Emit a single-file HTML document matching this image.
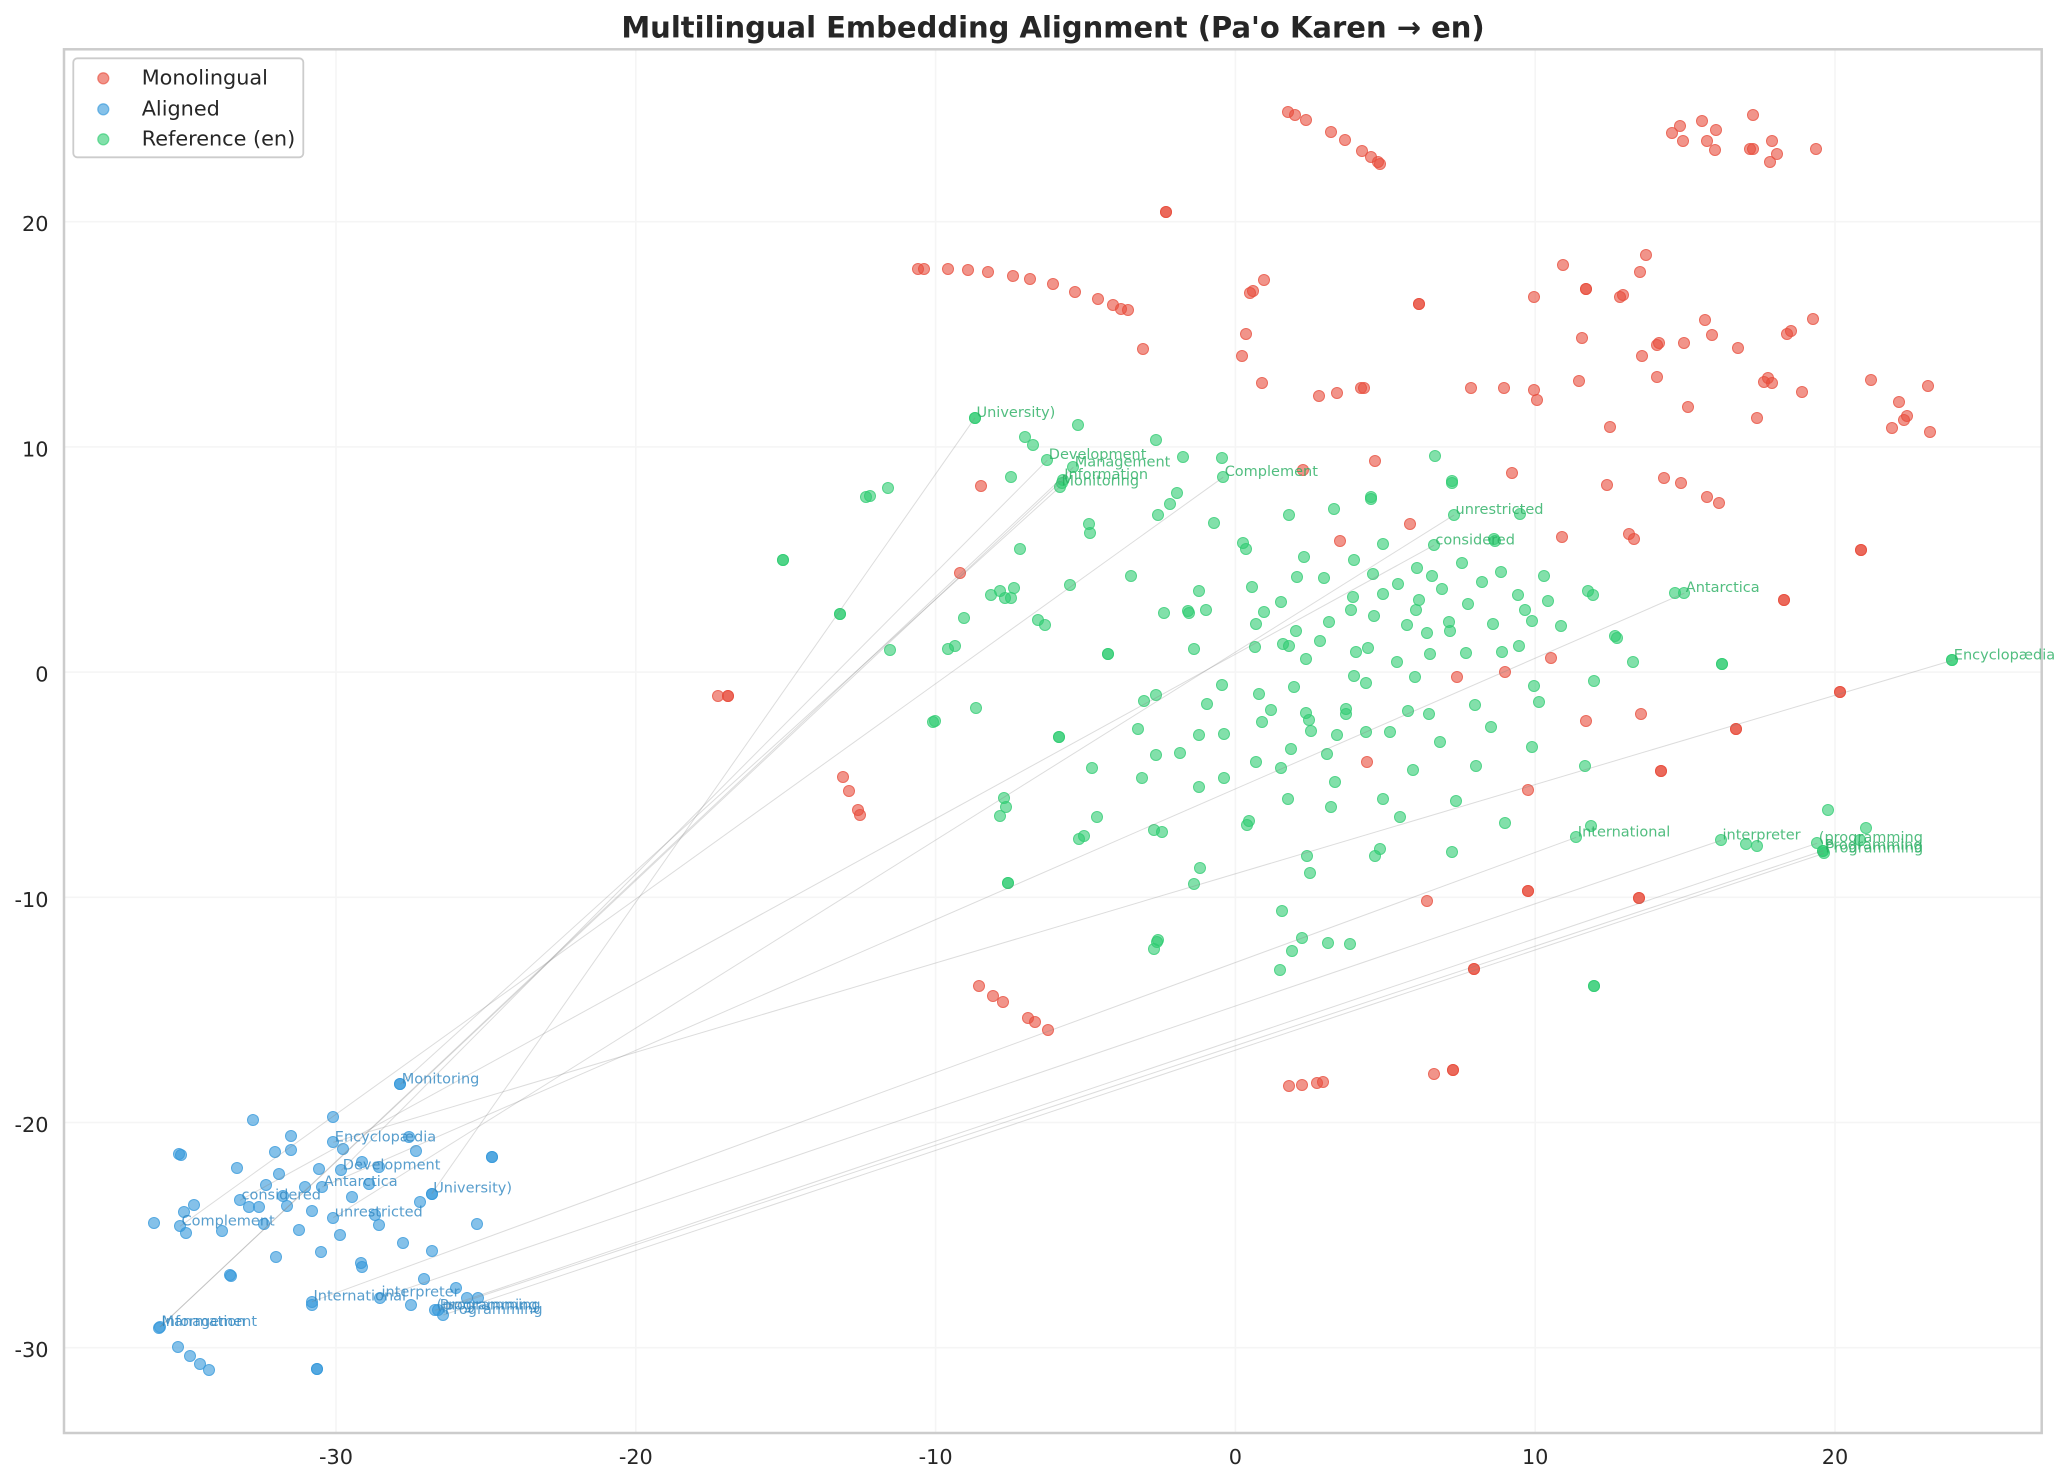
<!DOCTYPE html>
<html><head><meta charset="utf-8"><style>
html,body{margin:0;padding:0;background:#fff;}
body{width:2069px;height:1483px;position:relative;overflow:hidden;font-family:"DejaVu Sans","Liberation Sans",sans-serif;}
svg{position:absolute;left:0;top:0;}
#bg{z-index:0}#fg{z-index:5}
.p{position:absolute;left:0;top:0;}
.p i,.p b,.p u{position:absolute;display:block;width:12px;height:12px;margin:-6px 0 0 -6px;border-radius:50%;box-sizing:border-box;left:calc(var(--ox) + var(--x) * var(--sx));top:calc(var(--oy) + var(--y) * var(--sy));}
.p i{background:rgba(231,76,60,.6);border:1.3px solid rgba(231,76,60,.6);z-index:1}
.p b{background:rgba(52,152,219,.6);border:1.3px solid rgba(52,152,219,.6);z-index:2}
.p u{background:rgba(46,204,113,.6);border:1.3px solid rgba(46,204,113,.6);z-index:3}
</style></head><body>
<svg id="bg" width="2069" height="1483">
<g stroke="#f5f5f5" stroke-width="1.6">
<line x1="336" y1="50" x2="336" y2="1433"/><line x1="635.8" y1="50" x2="635.8" y2="1433"/><line x1="935.6" y1="50" x2="935.6" y2="1433"/><line x1="1235.4" y1="50" x2="1235.4" y2="1433"/><line x1="1535.2" y1="50" x2="1535.2" y2="1433"/><line x1="1835" y1="50" x2="1835" y2="1433"/>
<line x1="64" y1="221.7" x2="2042" y2="221.7"/><line x1="64" y1="446.9" x2="2042" y2="446.9"/><line x1="64" y1="672.1" x2="2042" y2="672.1"/><line x1="64" y1="897.3" x2="2042" y2="897.3"/><line x1="64" y1="1122.5" x2="2042" y2="1122.5"/><line x1="64" y1="1347.7" x2="2042" y2="1347.7"/>
</g>
<rect x="64" y="49.3" width="1977.7" height="1383.7" fill="none" stroke="#cccccc" stroke-width="2.5"/>
</svg>

<div class="p" style="--ox:1100px;--oy:380px;--sx:.4464px;--sy:.3827px">
<i style=--x:363;--y:8></i><i style=--x:491;--y:42></i><i style=--x:530;--y:35></i><i style=--x:585;--y:21></i><i style=--x:592;--y:21></i><i style=--x:832;--y:21></i><i style=--x:906;--y:21></i><i style=--x:972;--y:27></i><i style=--x:980;--y:53></i><i style=--x:1073;--y:2></i><i style=--x:1318;--y:71></i><i style=--x:1472;--y:100></i><i style=--x:1143;--y:124></i><i style=--x:617;--y:212></i><i style=--x:455;--y:235></i><i style=--x:924;--y:243></i><i style=--x:1264;--y:257></i><i style=--x:1302;--y:269></i><i style=--x:1136;--y:275></i><i style=--x:1360;--y:306></i><i style=--x:1387;--y:322></i><i style=--x:695;--y:375></i><i style=--x:538;--y:421></i><i style=--x:1035;--y:411></i><i style=--x:1185;--y:403></i><i style=--x:1197;--y:416></i><i style=--x:1532;--y:576></i><i style=--x:1532;--y:576></i><i style=--x:1011;--y:727></i><i style=--x:907;--y:762></i><i style=--x:800;--y:777></i><i style=--x:1089;--y:892></i><i style=--x:1212;--y:874></i><i style=--x:1425;--y:912></i><i style=--x:1425;--y:912></i><i style=--x:599;--y:997></i><i style=--x:1257;--y:1022></i><i style=--x:1257;--y:1022></i><i style=--x:959;--y:1072></i><i style=--x:733;--y:1362></i><i style=--x:958;--y:1336></i><i style=--x:958;--y:1336></i><i style=--x:1208;--y:1354></i><i style=--x:1208;--y:1354></i><i style=--x:838;--y:1540></i><i style=--x:838;--y:1540></i>
<u style=--x:126;--y:157></u><u style=--x:186;--y:202></u><u style=--x:274;--y:205></u><u style=--x:751;--y:199></u><u style=--x:276;--y:254></u><u style=--x:789;--y:263></u><u style=--x:789;--y:268></u><u style=--x:173;--y:296></u><u style=--x:157;--y:325></u><u style=--x:130;--y:353></u><u style=--x:608;--y:305></u><u style=--x:608;--y:312></u><u style=--x:525;--y:336></u><u style=--x:424;--y:353></u><u style=--x:793;--y:353></u><u style=--x:941;--y:349></u><u style=--x:256;--y:374></u><u style=--x:320;--y:426></u><u style=--x:328;--y:442></u><u style=--x:634;--y:429></u><u style=--x:748;--y:432></u><u style=--x:882;--y:415></u><u style=--x:885;--y:422></u><u style=--x:458;--y:463></u><u style=--x:570;--y:471></u><u style=--x:812;--y:479></u><u style=--x:70;--y:513></u><u style=--x:442;--y:516></u><u style=--x:502;--y:518></u><u style=--x:612;--y:508></u><u style=--x:711;--y:492></u><u style=--x:744;--y:513></u><u style=--x:668;--y:533></u><u style=--x:856;--y:528></u><u style=--x:899;--y:502></u><u style=--x:995;--y:513></u><u style=--x:341;--y:542></u><u style=--x:767;--y:545></u><u style=--x:222;--y:552></u><u style=--x:634;--y:560></u><u style=--x:566;--y:567></u><u style=--x:937;--y:562></u><u style=--x:1094;--y:551></u><u style=--x:1105;--y:563></u><u style=--x:1288;--y:557></u><u style=--x:1309;--y:557></u><u style=--x:715;--y:575></u><u style=--x:825;--y:586></u><u style=--x:1004;--y:578></u><u style=--x:406;--y:580></u><u style=--x:144;--y:609></u><u style=--x:198;--y:604></u><u style=--x:199;--y:610></u><u style=--x:238;--y:600></u><u style=--x:368;--y:606></u><u style=--x:563;--y:602></u><u style=--x:708;--y:600></u><u style=--x:953;--y:601></u><u style=--x:614;--y:617></u><u style=--x:968;--y:630></u><u style=--x:350;--y:638></u><u style=--x:513;--y:633></u><u style=--x:688;--y:641></u><u style=--x:782;--y:632></u><u style=--x:785;--y:657></u><u style=--x:881;--y:638></u><u style=--x:1033;--y:643></u><u style=--x:440;--y:657></u><u style=--x:733;--y:661></u><u style=--x:1153;--y:668></u><u style=--x:1158;--y:675></u><u style=--x:18;--y:716></u><u style=--x:18;--y:716></u><u style=--x:493;--y:683></u><u style=--x:211;--y:704></u><u style=--x:347;--y:698></u><u style=--x:410;--y:690></u><u style=--x:424;--y:696></u><u style=--x:601;--y:701></u><u style=--x:574;--y:712></u><u style=--x:740;--y:716></u><u style=--x:820;--y:714></u><u style=--x:901;--y:712></u><u style=--x:939;--y:695></u><u style=--x:462;--y:730></u><u style=--x:666;--y:736></u><u style=--x:1195;--y:738></u><u style=--x:1394;--y:741></u><u style=--x:1394;--y:741></u><u style=--x:569;--y:774></u><u style=--x:596;--y:793></u><u style=--x:706;--y:777></u><u style=--x:274;--y:798></u><u style=--x:435;--y:803></u><u style=--x:973;--y:800></u><u style=--x:1107;--y:787></u><u style=--x:126;--y:824></u><u style=--x:99;--y:840></u><u style=--x:357;--y:821></u><u style=--x:240;--y:847></u><u style=--x:841;--y:850></u><u style=--x:984;--y:842></u><u style=--x:384;--y:863></u><u style=--x:462;--y:870></u><u style=--x:469;--y:888></u><u style=--x:552;--y:860></u><u style=--x:552;--y:873></u><u style=--x:691;--y:866></u><u style=--x:738;--y:872></u><u style=--x:86;--y:912></u><u style=--x:364;--y:894></u><u style=--x:876;--y:908></u><u style=--x:473;--y:918></u><u style=--x:596;--y:920></u><u style=--x:650;--y:920></u><u style=--x:532;--y:928></u><u style=--x:222;--y:928></u><u style=--x:277;--y:926></u><u style=--x:762;--y:946></u><u style=--x:968;--y:960></u><u style=--x:126;--y:980></u><u style=--x:180;--y:975></u><u style=--x:428;--y:965></u><u style=--x:509;--y:978></u><u style=--x:350;--y:998></u><u style=--x:405;--y:1014></u><u style=--x:843;--y:1009></u><u style=--x:702;--y:1020></u><u style=--x:1087;--y:1009></u><u style=--x:95;--y:1041></u><u style=--x:278;--y:1041></u><u style=--x:527;--y:1051></u><u style=--x:222;--y:1064></u><u style=--x:422;--y:1096></u><u style=--x:634;--y:1096></u><u style=--x:798;--y:1101></u><u style=--x:518;--y:1116></u><u style=--x:673;--y:1142></u><u style=--x:333;--y:1152></u><u style=--x:330;--y:1162></u><u style=--x:121;--y:1176></u><u style=--x:140;--y:1182></u><u style=--x:907;--y:1158></u><u style=--x:1100;--y:1165></u><u style=--x:1067;--y:1195></u><u style=--x:1391;--y:1203></u><u style=--x:1447;--y:1213></u><u style=--x:1472;--y:1218></u><u style=--x:628;--y:1226></u><u style=--x:617;--y:1245></u><u style=--x:464;--y:1245></u><u style=--x:789;--y:1234></u><u style=--x:225;--y:1276></u><u style=--x:471;--y:1289></u><u style=--x:211;--y:1316></u><u style=--x:408;--y:1388></u><u style=--x:130;--y:1462></u><u style=--x:128;--y:1468></u><u style=--x:121;--y:1486></u><u style=--x:453;--y:1459></u><u style=--x:431;--y:1491></u><u style=--x:511;--y:1472></u><u style=--x:561;--y:1474></u><u style=--x:404;--y:1542></u>
</div>

<div class="p" style="--ox:880px;--oy:90px;--sx:.4464px;--sy:.3333px">
<i style=--x:914;--y:67></i><i style=--x:930;--y:75></i><i style=--x:955;--y:90></i><i style=--x:1011;--y:127></i><i style=--x:1042;--y:151></i><i style=--x:1080;--y:184></i><i style=--x:1100;--y:202></i><i style=--x:1115;--y:215></i><i style=--x:1120;--y:222></i><i style=--x:641;--y:367></i><i style=--x:641;--y:367></i><i style=--x:85;--y:538></i><i style=--x:99;--y:538></i><i style=--x:153;--y:538></i><i style=--x:198;--y:541></i><i style=--x:242;--y:547></i><i style=--x:298;--y:559></i><i style=--x:337;--y:568></i><i style=--x:388;--y:583></i><i style=--x:437;--y:607></i><i style=--x:489;--y:628></i><i style=--x:522;--y:646></i><i style=--x:540;--y:658></i><i style=--x:556;--y:661></i><i style=--x:590;--y:778></i><i style=--x:860;--y:571></i><i style=--x:836;--y:603></i><i style=--x:828;--y:610></i><i style=--x:1208;--y:643></i><i style=--x:1208;--y:643></i><i style=--x:1530;--y:526></i><i style=--x:1466;--y:622></i><i style=--x:820;--y:733></i><i style=--x:811;--y:799></i>
</div>

<div class="p" style="--ox:1580px;--oy:90px;--sx:.3333px;--sy:.5676px">
<i style=--x:277;--y:76></i><i style=--x:301;--y:64></i><i style=--x:310;--y:89></i><i style=--x:367;--y:55></i><i style=--x:381;--y:89></i><i style=--x:409;--y:71></i><i style=--x:405;--y:106></i><i style=--x:519;--y:44></i><i style=--x:509;--y:104></i><i style=--x:520;--y:104></i><i style=--x:576;--y:89></i><i style=--x:592;--y:113></i><i style=--x:570;--y:127></i><i style=--x:708;--y:104></i><i style=--x:199;--y:291></i><i style=--x:181;--y:321></i><i style=--x:18;--y:351></i><i style=--x:18;--y:351></i><i style=--x:120;--y:365></i><i style=--x:130;--y:361></i><i style=--x:5;--y:437></i><i style=--x:230;--y:450></i><i style=--x:236;--y:446></i><i style=--x:187;--y:469></i><i style=--x:313;--y:446></i><i style=--x:375;--y:406></i><i style=--x:397;--y:432></i><i style=--x:475;--y:455></i><i style=--x:622;--y:430></i><i style=--x:634;--y:425></i><i style=--x:700;--y:404></i><i style=--x:232;--y:506></i><i style=--x:553;--y:515></i><i style=--x:565;--y:508></i><i style=--x:575;--y:517></i><i style=--x:667;--y:532></i><i style=--x:874;--y:511></i><i style=--x:958;--y:550></i><i style=--x:1045;--y:522></i><i style=--x:972;--y:581></i><i style=--x:980;--y:575></i><i style=--x:937;--y:596></i><i style=--x:1051;--y:603></i><i style=--x:844;--y:811></i><i style=--x:844;--y:811></i><i style=--x:781;--y:1060></i><i style=--x:781;--y:1060></i>
<u style=--x:1117;--y:1005></u><u style=--x:1117;--y:1005></u><u style=--x:745;--y:1269></u><u style=--x:858;--y:1301></u><u style=--x:840;--y:1322></u><u style=--x:712;--y:1327></u><u style=--x:730;--y:1340></u><u style=--x:730;--y:1340></u><u style=--x:732;--y:1345></u>
</div>

<div class="p" style="--ox:680px;--oy:380px;--sx:.3333px;--sy:.4719px">
<i style=--x:904;--y:225></i><i style=--x:841;--y:409></i><i style=--x:115;--y:670></i><i style=--x:145;--y:670></i><i style=--x:145;--y:670></i><i style=--x:489;--y:842></i><i style=--x:508;--y:872></i><i style=--x:535;--y:912></i><i style=--x:541;--y:922></i><i style=--x:898;--y:1284></i><i style=--x:940;--y:1306></i><i style=--x:969;--y:1319></i><i style=--x:1045;--y:1352></i><i style=--x:1066;--y:1361></i><i style=--x:1105;--y:1378></i>
<u style=--x:885;--y:80></u><u style=--x:885;--y:80></u><u style=--x:1195;--y:96></u><u style=--x:1036;--y:121></u><u style=--x:1060;--y:138></u><u style=--x:1102;--y:170></u><u style=--x:1180;--y:185></u><u style=--x:1148;--y:212></u><u style=--x:1145;--y:218></u><u style=--x:1140;--y:226></u><u style=--x:993;--y:206></u><u style=--x:557;--y:248></u><u style=--x:570;--y:246></u><u style=--x:625;--y:229></u><u style=--x:1228;--y:305></u><u style=--x:1231;--y:325></u><u style=--x:1021;--y:358></u><u style=--x:310;--y:382></u><u style=--x:310;--y:382></u><u style=--x:934;--y:456></u><u style=--x:960;--y:447></u><u style=--x:975;--y:463></u><u style=--x:993;--y:461></u><u style=--x:1003;--y:441></u><u style=--x:1171;--y:435></u><u style=--x:479;--y:495></u><u style=--x:479;--y:495></u><u style=--x:853;--y:505></u><u style=--x:1075;--y:509></u><u style=--x:1096;--y:520></u><u style=--x:630;--y:573></u><u style=--x:805;--y:571></u><u style=--x:826;--y:564></u><u style=--x:889;--y:696></u><u style=--x:760;--y:725></u><u style=--x:766;--y:723></u><u style=--x:1138;--y:757></u><u style=--x:1138;--y:757></u><u style=--x:1236;--y:822></u><u style=--x:972;--y:886></u><u style=--x:977;--y:904></u><u style=--x:961;--y:924></u><u style=--x:1250;--y:925></u><u style=--x:1197;--y:972></u><u style=--x:1211;--y:966></u><u style=--x:985;--y:1066></u><u style=--x:985;--y:1066></u>
</div>

<div class="p" style="--ox:130px;--oy:1055px;--sx:.3333px;--sy:.3333px">
<b style=--x:811;--y:88></b><b style=--x:811;--y:88></b><b style=--x:370;--y:196></b><b style=--x:610;--y:187></b><b style=--x:484;--y:244></b><b style=--x:610;--y:262></b><b style=--x:640;--y:283></b><b style=--x:838;--y:246></b><b style=--x:858;--y:289></b><b style=--x:148;--y:298></b><b style=--x:153;--y:300></b><b style=--x:436;--y:292></b><b style=--x:484;--y:286></b><b style=--x:1087;--y:307></b><b style=--x:1087;--y:307></b><b style=--x:321;--y:340></b><b style=--x:448;--y:357></b><b style=--x:568;--y:343></b><b style=--x:634;--y:346></b><b style=--x:697;--y:321></b><b style=--x:748;--y:336></b><b style=--x:409;--y:390></b><b style=--x:526;--y:396></b><b style=--x:577;--y:396></b><b style=--x:716;--y:388></b><b style=--x:905;--y:416></b><b style=--x:905;--y:416></b><b style=--x:871;--y:441></b><b style=--x:330;--y:436></b><b style=--x:358;--y:457></b><b style=--x:386;--y:457></b><b style=--x:460;--y:422></b><b style=--x:472;--y:452></b><b style=--x:667;--y:427></b><b style=--x:193;--y:450></b><b style=--x:163;--y:471></b><b style=--x:546;--y:468></b><b style=--x:610;--y:488></b><b style=--x:735;--y:480></b><b style=--x:748;--y:511></b><b style=--x:1042;--y:507></b><b style=--x:73;--y:504></b><b style=--x:150;--y:514></b><b style=--x:167;--y:535></b><b style=--x:277;--y:529></b><b style=--x:402;--y:506></b><b style=--x:508;--y:525></b><b style=--x:630;--y:541></b><b style=--x:820;--y:564></b><b style=--x:906;--y:589></b><b style=--x:573;--y:592></b><b style=--x:439;--y:606></b><b style=--x:694;--y:624></b><b style=--x:697;--y:636></b><b style=--x:300;--y:660></b><b style=--x:303;--y:662></b><b style=--x:882;--y:672></b><b style=--x:978;--y:700></b><b style=--x:1012;--y:728></b><b style=--x:1043;--y:728></b><b style=--x:546;--y:740></b><b style=--x:546;--y:750></b><b style=--x:750;--y:728></b><b style=--x:843;--y:750></b><b style=--x:915;--y:766></b><b style=--x:925;--y:766></b><b style=--x:940;--y:780></b><b style=--x:90;--y:816></b><b style=--x:86;--y:818></b><b style=--x:145;--y:877></b><b style=--x:180;--y:904></b><b style=--x:210;--y:928></b><b style=--x:237;--y:945></b><b style=--x:562;--y:941></b><b style=--x:562;--y:941></b>
</div>

<div class="p" style="--ox:1100px;--oy:975px;--sx:.6008px;--sy:.3333px">
<i style=--x:315;--y:334></i><i style=--x:336;--y:331></i><i style=--x:362;--y:325></i><i style=--x:371;--y:322></i><i style=--x:556;--y:298></i><i style=--x:588;--y:286></i><i style=--x:588;--y:286></i>
<u style=--x:822;--y:32></u><u style=--x:822;--y:32></u>
</div>

<svg id="fg" width="2069" height="1483">
<g stroke="#808080" stroke-opacity=".28" stroke-width="1">
<line x1="400.3" y1="1084.3" x2="1060" y2="486.7"/>
<line x1="333.3" y1="1142.3" x2="1952.3" y2="660.4"/>
<line x1="341.3" y1="1170.3" x2="1047.3" y2="460.2"/>
<line x1="322.3" y1="1187" x2="1684.3" y2="593.2"/>
<line x1="240" y1="1200.3" x2="1433.9" y2="545.3"/>
<line x1="333.3" y1="1217.7" x2="1454" y2="515.1"/>
<line x1="431.7" y1="1193.7" x2="975" y2="417.8"/>
<line x1="180" y1="1226.3" x2="1223.2" y2="477.2"/>
<line x1="312" y1="1301.7" x2="1576.3" y2="837.3"/>
<line x1="380" y1="1297.7" x2="1721" y2="840.4"/>
<line x1="435" y1="1310.3" x2="1817.3" y2="843.2"/>
<line x1="438.3" y1="1310.3" x2="1823.3" y2="850.6"/>
<line x1="443.3" y1="1315" x2="1824" y2="853.4"/>
<line x1="160" y1="1327" x2="1062.7" y2="480"/>
<line x1="160" y1="1327" x2="1073.3" y2="467.3"/>
</g>
<g font-family="DejaVu Sans, Liberation Sans, sans-serif" font-size="14.5" fill="#2e86c1" fill-opacity=".8">
<text x="401.8" y="1083.3">Monitoring</text>
<text x="334.8" y="1141.3">Encyclopædia</text>
<text x="342.8" y="1169.3">Development</text>
<text x="323.8" y="1186">Antarctica</text>
<text x="241.5" y="1199.3">considered</text>
<text x="334.8" y="1216.7">unrestricted</text>
<text x="433.2" y="1192.7">University)</text>
<text x="181.5" y="1225.3">Complement</text>
<text x="313.5" y="1300.7">International</text>
<text x="381.5" y="1296.7">interpreter</text>
<text x="436.5" y="1309.3">(programming</text>
<text x="439.8" y="1309.3">Programming</text>
<text x="444.8" y="1314">Programming</text>
<text x="161.5" y="1326">Information</text>
<text x="161.5" y="1326">Management</text>
</g>
<g font-family="DejaVu Sans, Liberation Sans, sans-serif" font-size="14.5" fill="#27ae60" fill-opacity=".8">
<text x="976.5" y="416.8">University)</text>
<text x="1048.8" y="459.2">Development</text>
<text x="1074.8" y="466.3">Management</text>
<text x="1064.2" y="479">Information</text>
<text x="1061.5" y="485.7">Monitoring</text>
<text x="1224.7" y="476.2">Complement</text>
<text x="1455.5" y="514.1">unrestricted</text>
<text x="1435.4" y="544.3">considered</text>
<text x="1685.8" y="592.2">Antarctica</text>
<text x="1953.8" y="659.4">Encyclopædia</text>
<text x="1577.8" y="836.3">International</text>
<text x="1722.5" y="839.4">interpreter</text>
<text x="1818.8" y="842.2">(programming</text>
<text x="1824.8" y="849.6">Programming</text>
<text x="1825.5" y="852.4">Programming</text>
</g>
<text x="1053" y="37.5" text-anchor="middle" font-family="DejaVu Sans, Liberation Sans, sans-serif" font-weight="bold" font-size="29" fill="#262626">Multilingual Embedding Alignment (Pa'o Karen → en)</text>
<g font-family="DejaVu Sans, Liberation Sans, sans-serif" font-size="20.8" fill="#262626">
<g text-anchor="middle">
<text x="336" y="1464">-30</text><text x="635.8" y="1464">-20</text><text x="935.6" y="1464">-10</text><text x="1235.4" y="1464">0</text><text x="1535.2" y="1464">10</text><text x="1835" y="1464">20</text>
</g>
<g text-anchor="end">
<text x="48.5" y="231.2">20</text><text x="48.5" y="456.4">10</text><text x="48.5" y="681.6">0</text><text x="48.5" y="906.8">-10</text><text x="48.5" y="1132">-20</text><text x="48.5" y="1357.2">-30</text>
</g>
</g>
<rect x="73.3" y="58.3" width="230" height="99" rx="4" fill="#fff" fill-opacity=".85" stroke="#cccccc" stroke-width="1.8"/>
<circle cx="103.3" cy="78.3" r="5.5" fill="#e74c3c" fill-opacity=".6" stroke="#e74c3c" stroke-opacity=".6" stroke-width="1.3"/>
<circle cx="103.3" cy="109.3" r="5.5" fill="#3498db" fill-opacity=".6" stroke="#3498db" stroke-opacity=".6" stroke-width="1.3"/>
<circle cx="103.3" cy="139.3" r="5.5" fill="#2ecc71" fill-opacity=".6" stroke="#2ecc71" stroke-opacity=".6" stroke-width="1.3"/>
<g font-family="DejaVu Sans, Liberation Sans, sans-serif" font-size="20.8" fill="#262626">
<text x="141.7" y="84.3">Monolingual</text>
<text x="141.7" y="115.3">Aligned</text>
<text x="141.7" y="145.5">Reference (en)</text>
</g>
</svg>
</body></html>
